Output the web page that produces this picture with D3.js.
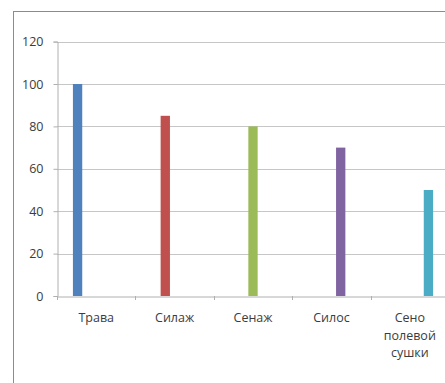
<!DOCTYPE html>
<html>
<head>
<meta charset="utf-8">
<script src="https://cdn.jsdelivr.net/npm/d3@7"></script>
<style>
  html, body { margin: 0; padding: 0; background: #fff; }
  svg { display: block; }
  text { font-family: "Open Sans", "Noto Sans", sans-serif; }
</style>
</head>
<body>
<script>
// Feed types and their relative nutritional value
const categories = ["Трава", "Силаж", "Сенаж", "Силос", "Сено полевой сушки"];
const values = [100, 85, 80, 70, 50];
const seriesColors = ["#4F81BD", "#C0504D", "#9BBB59", "#8064A2", "#4BACC6"];
const yTicks = [0, 20, 40, 60, 80, 100, 120];

const W = 445, H = 383;
const svg = d3.select("body").append("svg").attr("width", W).attr("height", H);

// chart frame (extends past the right and bottom edges)
svg.append("rect")
  .attr("x", 13.5).attr("y", 11.5)
  .attr("width", 500).attr("height", 420)
  .attr("fill", "#fff").attr("stroke", "#8c8c8c").attr("stroke-width", 1);

const plot = { left: 57, right: 449, top: 41.6, bottom: 296 };

const y = d3.scaleLinear().domain([0, 120]).range([plot.bottom, plot.top]);
const x0 = d3.scaleBand().domain(categories).range([plot.left, plot.right]);
// each category holds one slot per series; only its own series is filled
const x1 = d3.scaleBand().domain(d3.range(categories.length))
  .range([0, x0.bandwidth()]).paddingOuter(1.71).paddingInner(0);

// horizontal gridlines
svg.append("g").selectAll("line").data(yTicks.filter(d => d > 0)).join("line")
  .attr("x1", plot.left).attr("x2", W)
  .attr("y1", d => Math.round(y(d)) + 0.5).attr("y2", d => Math.round(y(d)) + 0.5)
  .attr("stroke", "#c6c6c6").attr("stroke-width", 1.2);

// y axis
const yAxis = svg.append("g").attr("transform", `translate(${plot.left + 0.5},0)`)
  .call(d3.axisLeft(y).tickValues(yTicks).tickSize(4).tickPadding(10));
yAxis.select(".domain").attr("stroke", "#b0b0b0");
yAxis.selectAll(".tick line").attr("stroke", "#b0b0b0");
yAxis.selectAll(".tick text").attr("font-size", 12.5).attr("fill", "#3c3c3c");

// bars
svg.append("g").selectAll("rect").data(values).join("rect")
  .attr("x", (d, i) => x0(categories[i]) + x1(i))
  .attr("width", x1.bandwidth())
  .attr("y", d => y(d))
  .attr("height", d => y(0) - y(d))
  .attr("fill", (d, i) => seriesColors[i]);

// x axis
const xAxis = svg.append("g").attr("transform", `translate(0,${Math.round(plot.bottom) + 0.5})`)
  .call(d3.axisBottom(x0).tickSize(0).tickPadding(0).tickFormat(""));
xAxis.select(".domain").attr("stroke", "#b0b0b0");
xAxis.selectAll(".tick text").remove();

// category boundary ticks
const bounds = categories.map(c => x0(c)).concat([plot.right]);
svg.append("g").selectAll("line").data(bounds).join("line")
  .attr("x1", d => Math.round(d) + 0.5).attr("x2", d => Math.round(d) + 0.5)
  .attr("y1", plot.bottom).attr("y2", plot.bottom + 4)
  .attr("stroke", "#b0b0b0");

// category labels, wrapped word by word
const labels = svg.append("g").selectAll("text").data(categories).join("text")
  .attr("text-anchor", "middle")
  .attr("font-size", 12.5).attr("fill", "#3c3c3c")
  .attr("transform", c => `translate(${x0(c) + x0.bandwidth() / 2},322)`);
labels.each(function (c) {
  const words = c.split(" ");
  d3.select(this).selectAll("tspan").data(words).join("tspan")
    .attr("x", 0).attr("y", (w, i) => i * 17.5)
    .text(w => w);
});
</script>
</body>
</html>
